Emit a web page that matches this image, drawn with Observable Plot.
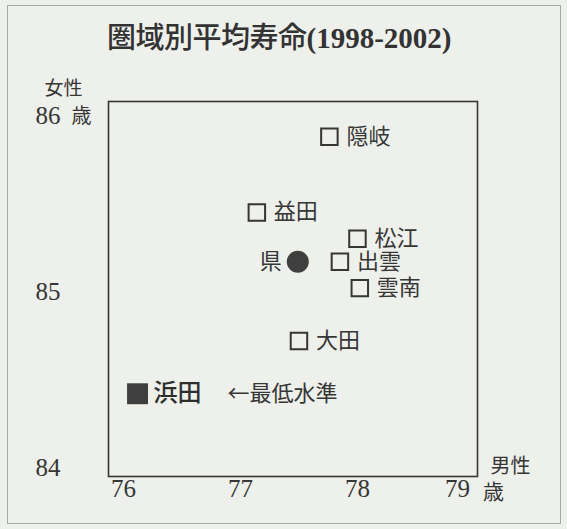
<!DOCTYPE html>
<html>
<head>
<meta charset="utf-8">
<script src="https://cdn.jsdelivr.net/npm/d3@7"></script>
<script src="https://cdn.jsdelivr.net/npm/@observablehq/plot@0.6"></script>
<style>
  body { margin: 0; background: #eef0eb; }
  #wrap { position: relative; width: 567px; height: 529px; background: #eef0eb; overflow: hidden; }
  #border { position: absolute; left: 7px; top: 5px; width: 552px; height: 517px; border: 1.5px solid #a8aaa6; }
  #title { position: absolute; left: 107px; top: 19px; text-align: left; font-size: 29px; line-height: 32px; color: #333; white-space: nowrap; }
  #title .cjk { font-family: "Noto Sans CJK JP", sans-serif; font-weight: 500; letter-spacing: -0.5px; }
  #title .num { font-family: "Liberation Serif", serif; font-weight: bold; }
  #chart { position: absolute; left: 0; top: 0; }
</style>
</head>
<body>
<div id="wrap">
  <div id="border"></div>
  <div id="title"><span class="cjk">圏域別平均寿命</span><span class="num">(1998-2002)</span></div>
  <div id="chart"></div>
</div>
<script>
// data
const areas  = ["隠岐", "益田", "松江", "出雲", "雲南", "大田"];
const areaMale   = [77.76, 77.14, 78.00, 77.85, 78.02, 77.50];
const areaFemale = [85.88, 85.45, 85.30, 85.17, 85.02, 84.72];

const prefName = ["県"];
const prefMale = [77.49];
const prefFemale = [85.17];

const lowName = ["浜田"];
const lowMale = [76.12];
const lowFemale = [84.42];
const lowNote = ["←最低水準"];

const xTicks = [76, 77, 78];
const xTickLast = [79];
const yTicks = [84, 85, 86];

const areaData = areas.map((n, i) => ({name: n, male: areaMale[i], female: areaFemale[i]}));
const prefData = prefName.map((n, i) => ({name: n, male: prefMale[i], female: prefFemale[i]}));
const lowData = lowName.map((n, i) => ({name: n, note: lowNote[i], male: lowMale[i], female: lowFemale[i]}));

const ink = "#363636";
const cjk = "Noto Sans CJK JP, sans-serif";
const serif = "Liberation Serif, serif";

const chart = Plot.plot({
  width: 567,
  height: 529,
  marginLeft: 108,
  marginRight: 90,
  marginTop: 101,
  marginBottom: 53,
  style: { background: "transparent", color: ink },
  x: { domain: [75.872, 79.026], label: null },
  y: { domain: [83.95, 86.08], label: null },
  marks: [
    Plot.frame({ stroke: ink, strokeWidth: 1.6 }),
    Plot.axisX({ ticks: xTicks, tickSize: 0, tickPadding: 3, fontSize: 25, fontFamily: serif, label: null, tickFormat: d => String(d) }),
    Plot.axisX({ ticks: xTickLast, tickSize: 0, tickPadding: 3, fontSize: 25, fontFamily: serif, label: null, dx: -17, tickFormat: d => String(d) }),
    Plot.axisY({ ticks: yTicks, tickSize: 0, tickPadding: 48, fontSize: 25, fontFamily: serif, label: null, tickFormat: d => String(d) }),
    // unit labels
    Plot.text(["女性"], { frameAnchor: "top-left", lineAnchor: "middle", dx: -45, dy: -13, fontSize: 19, fontFamily: cjk, textAnchor: "middle", fill: ink }),
    Plot.text(["歳"], { frameAnchor: "top-left", lineAnchor: "middle", dx: -27, dy: 15, fontSize: 20, fontFamily: cjk, textAnchor: "middle", fill: ink }),
    Plot.text(["男性"], { frameAnchor: "bottom-right", lineAnchor: "middle", dx: 33, dy: -10, fontSize: 20, fontFamily: cjk, textAnchor: "middle", fill: ink }),
    Plot.text(["歳"], { frameAnchor: "bottom-right", lineAnchor: "middle", dx: 16, dy: 16, fontSize: 21, fontFamily: cjk, textAnchor: "middle", fill: ink }),
    // open squares for areas
    Plot.dot(areaData, { x: "male", y: "female", symbol: "square", r: 9.3, stroke: ink, strokeWidth: 2, fill: "none" }),
    Plot.text(areaData, { x: "male", y: "female", text: "name", dx: 17, textAnchor: "start", fontSize: 22, fontFamily: cjk, fill: ink }),
    // prefecture
    Plot.dot(prefData, { x: "male", y: "female", symbol: "circle", r: 11, fill: "#3f3f3f" }),
    Plot.text(prefData, { x: "male", y: "female", text: "name", dx: -16, textAnchor: "end", fontSize: 22, fontFamily: cjk, fill: ink }),
    // lowest
    Plot.dot(lowData, { x: "male", y: "female", symbol: "square", r: 11.8, fill: "#3f3f3f" }),
    Plot.text(lowData, { x: "male", y: "female", text: "name", dx: 16, textAnchor: "start", fontSize: 24, fontWeight: 500, fontFamily: cjk, fill: "#2e2e2e" }),
    Plot.text(lowData, { x: "male", y: "female", text: "note", dx: 90, textAnchor: "start", fontSize: 22, fontFamily: cjk, fill: ink })
  ]
});
document.getElementById("chart").appendChild(chart);
</script>
</body>
</html>
